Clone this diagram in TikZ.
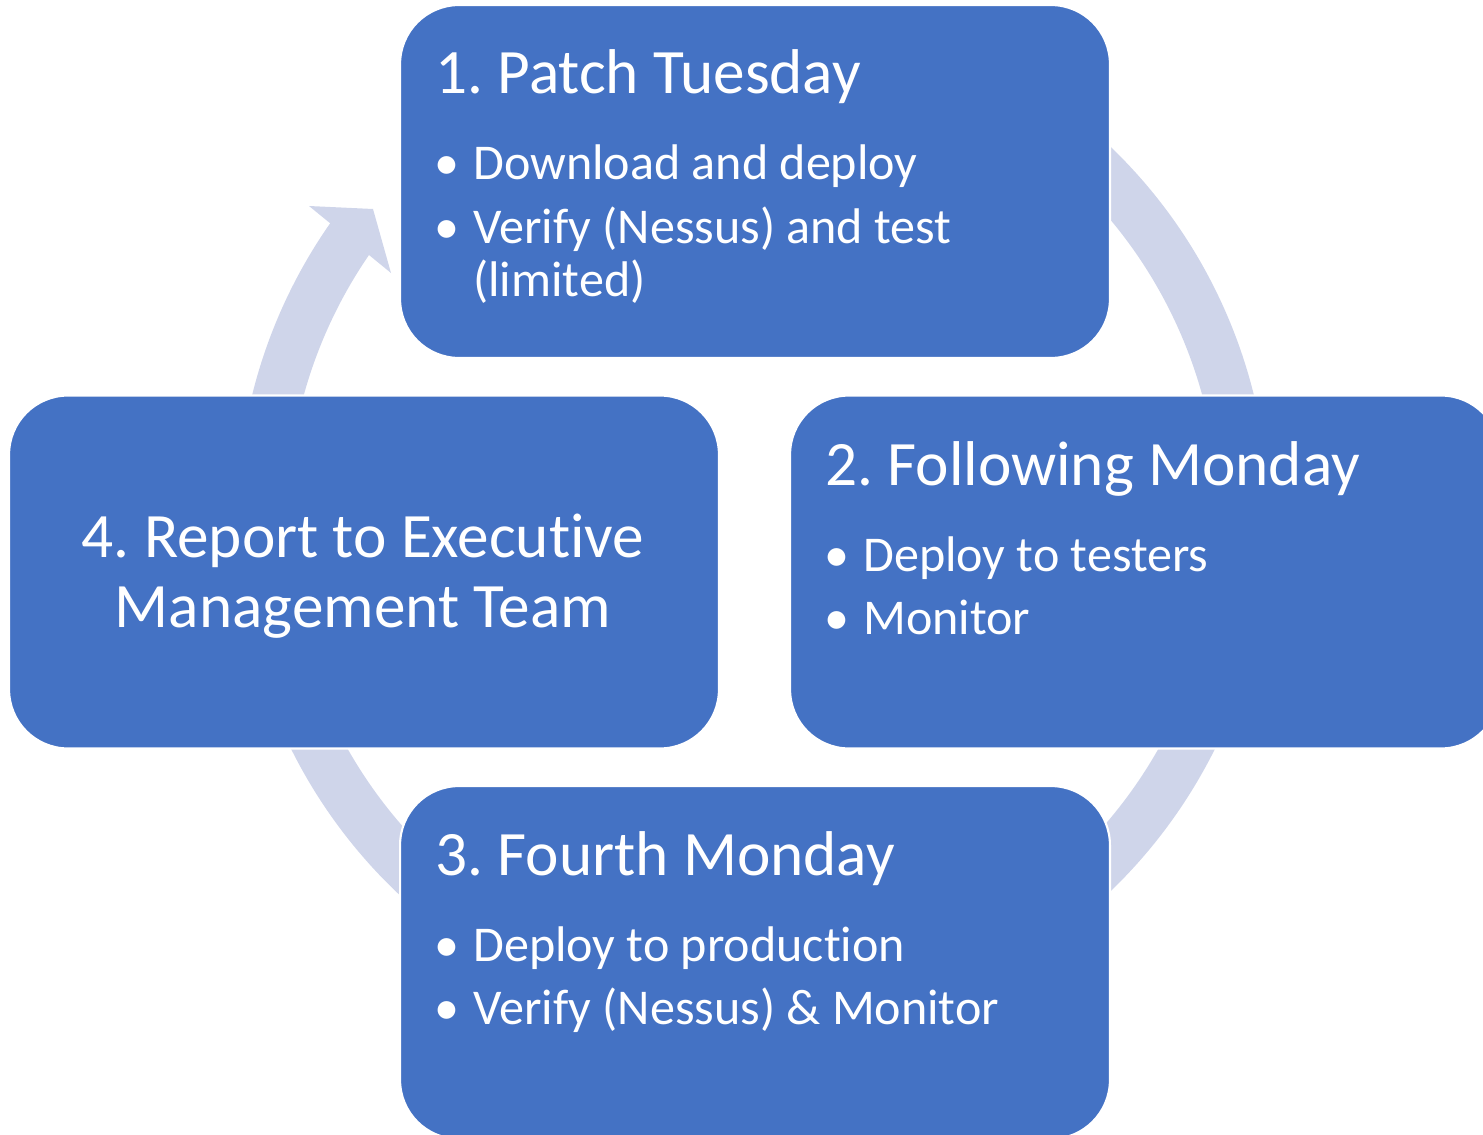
\documentclass[tikz,border=0pt]{standalone}
\usepackage{fontspec}
\setmainfont{Carlito}[Ligatures=NoCommon]
\frenchspacing
\definecolor{boxblue}{HTML}{4472C4}
\definecolor{ringblue}{HTML}{CFD5EA}
\tikzset{
  stage/.style={draw=white, line width=1.2pt, fill=boxblue, rounded corners=1.18cm,
    minimum width=14.2cm, minimum height=7.06cm, inner sep=0pt},
  head/.style={text=white, font=\fontsize{36}{40}\selectfont, inner sep=0pt},
  item/.style={text=white, font=\fontsize{28.5}{31}\selectfont, inner sep=0pt, anchor=base west},
}
\newcommand{\bul}{\makebox[0.72cm][l]{\hspace{-0.06cm}•}}
\begin{document}
\begin{tikzpicture}[x=0.02cm, y=-0.02cm, line join=round]
			\def\cx{753} \def\cy{519} \def\rr{491}
			\useasboundingbox (0,0) rectangle (1483,1135);
			\clip (0,0) rectangle (1483,1135);
			% the cycle ring and its one visible head
			\draw[ringblue, line width=1cm] (\cx,\cy) ++(300:\rr) arc (300:576:\rr);
			\fill[ringblue] (309,206) -- (373,209) -- (391,273) -- cycle;
			% the four stages
			\foreach \n/\x/\y in {1/755/181.5, 2/1145/572, 3/755/962.5, 4/364/572}
			\node[stage] (s\n) at (\x,\y) {};
			\node[head, anchor=base west] (h1) at (435,94) {1. Patch Tuesday};
			\node[item] (i1a) at (437,180) {\bul Download and deploy};
			\node[item] (i1b) at (437,243) {\bul Verify (Nessus) and test};
			\node[item] (i1c) at (473,296) {(limited)};
			\node[head, anchor=base west] (h2) at (825,485) {2. Following Monday};
			\node[item] (i2a) at (827,571) {\bul Deploy to testers};
			\node[item] (i2b) at (827,634) {\bul Monitor};
			\node[head, anchor=base west] (h3) at (435,875) {3. Fourth Monday};
			\node[item] (i3a) at (437,961) {\bul Deploy to production};
			\node[item] (i3b) at (437,1024) {\bul Verify (Nessus) \& Monitor};
			\node[head, anchor=base] (h4a) at (363,557) {4. Report to Executive};
			\node[head, anchor=base] (h4b) at (363,627) {Management Team};
		\end{tikzpicture}
\end{document}
